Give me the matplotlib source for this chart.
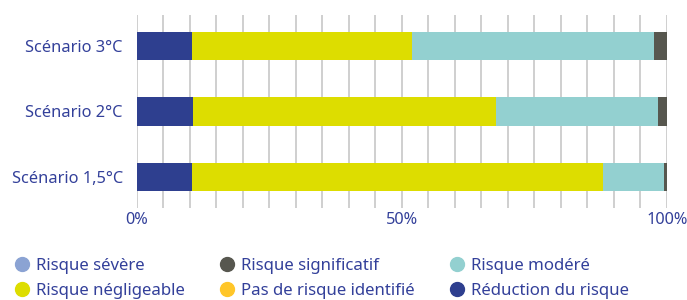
import numpy as np
import matplotlib.pyplot as plt
from matplotlib.lines import Line2D

plt.rcParams['font.family'] = ['Noto Sans', 'DejaVu Sans']

scenarios = ["Scénario 1,5°C", "Scénario 2°C", "Scénario 3°C"]
reduction = [10.4, 10.6, 10.4]
negligeable = [77.6, 57.1, 41.5]
modere = [11.5, 30.7, 45.7]
significatif = [0.5, 1.6, 2.4]
severe = [0, 0, 0]
pas_de_risque = [0, 0, 0]

navy = "#2e3f8f"
yellow = "#dddd00"
teal = "#93d0d0"
dark = "#57574f"
light_blue = "#8ba3d3"
orange = "#ffc629"
text_col = "#33409a"

fig = plt.figure(figsize=(6.87, 3.0), dpi=100)
ax = fig.add_axes([0.199, 0.307, 0.7715, 0.643])

y = np.arange(len(scenarios))
h = 0.43
left = np.zeros(len(scenarios))
for vals, col in [(reduction, navy), (negligeable, yellow), (modere, teal),
                  (significatif, dark), (pas_de_risque, orange), (severe, light_blue)]:
    ax.barh(y, vals, left=left, height=h, color=col, zorder=3)
    left += np.array(vals)

ax.set_xlim(0, 100)
ax.set_ylim(-0.47, 2.47)
ax.set_xticks(np.arange(0, 101, 5), minor=True)
ax.set_xticks([0, 50, 100])
ax.set_xticklabels(["0%", "50%", "100%"])
ax.grid(axis="x", which="both", color="#cccccc", linewidth=1.3, zorder=0)
ax.set_yticks(y)
ax.set_yticklabels(scenarios)
ax.tick_params(axis="both", which="both", length=0, labelsize=11.8, colors=text_col)
ax.tick_params(axis="x", pad=3)
ax.tick_params(axis="y", pad=10)
for s in ax.spines.values():
    s.set_visible(False)

labels = ["Risque sévère", "Risque négligeable", "Risque significatif",
          "Pas de risque identifié", "Risque modéré", "Réduction du risque"]
colors = [light_blue, yellow, dark, orange, teal, navy]
handles = [Line2D([], [], marker="o", linestyle="", markersize=10, color=c) for c in colors]
leg = fig.legend(handles, labels, ncol=3, loc="lower left", bbox_to_anchor=(-0.002, -0.047),
                 frameon=False, fontsize=12.1, handletextpad=0.3, columnspacing=2.05,
                 labelspacing=0.55, handlelength=1.0)
for t in leg.get_texts():
    t.set_color(text_col)

fig.savefig("out.png", dpi=100)
